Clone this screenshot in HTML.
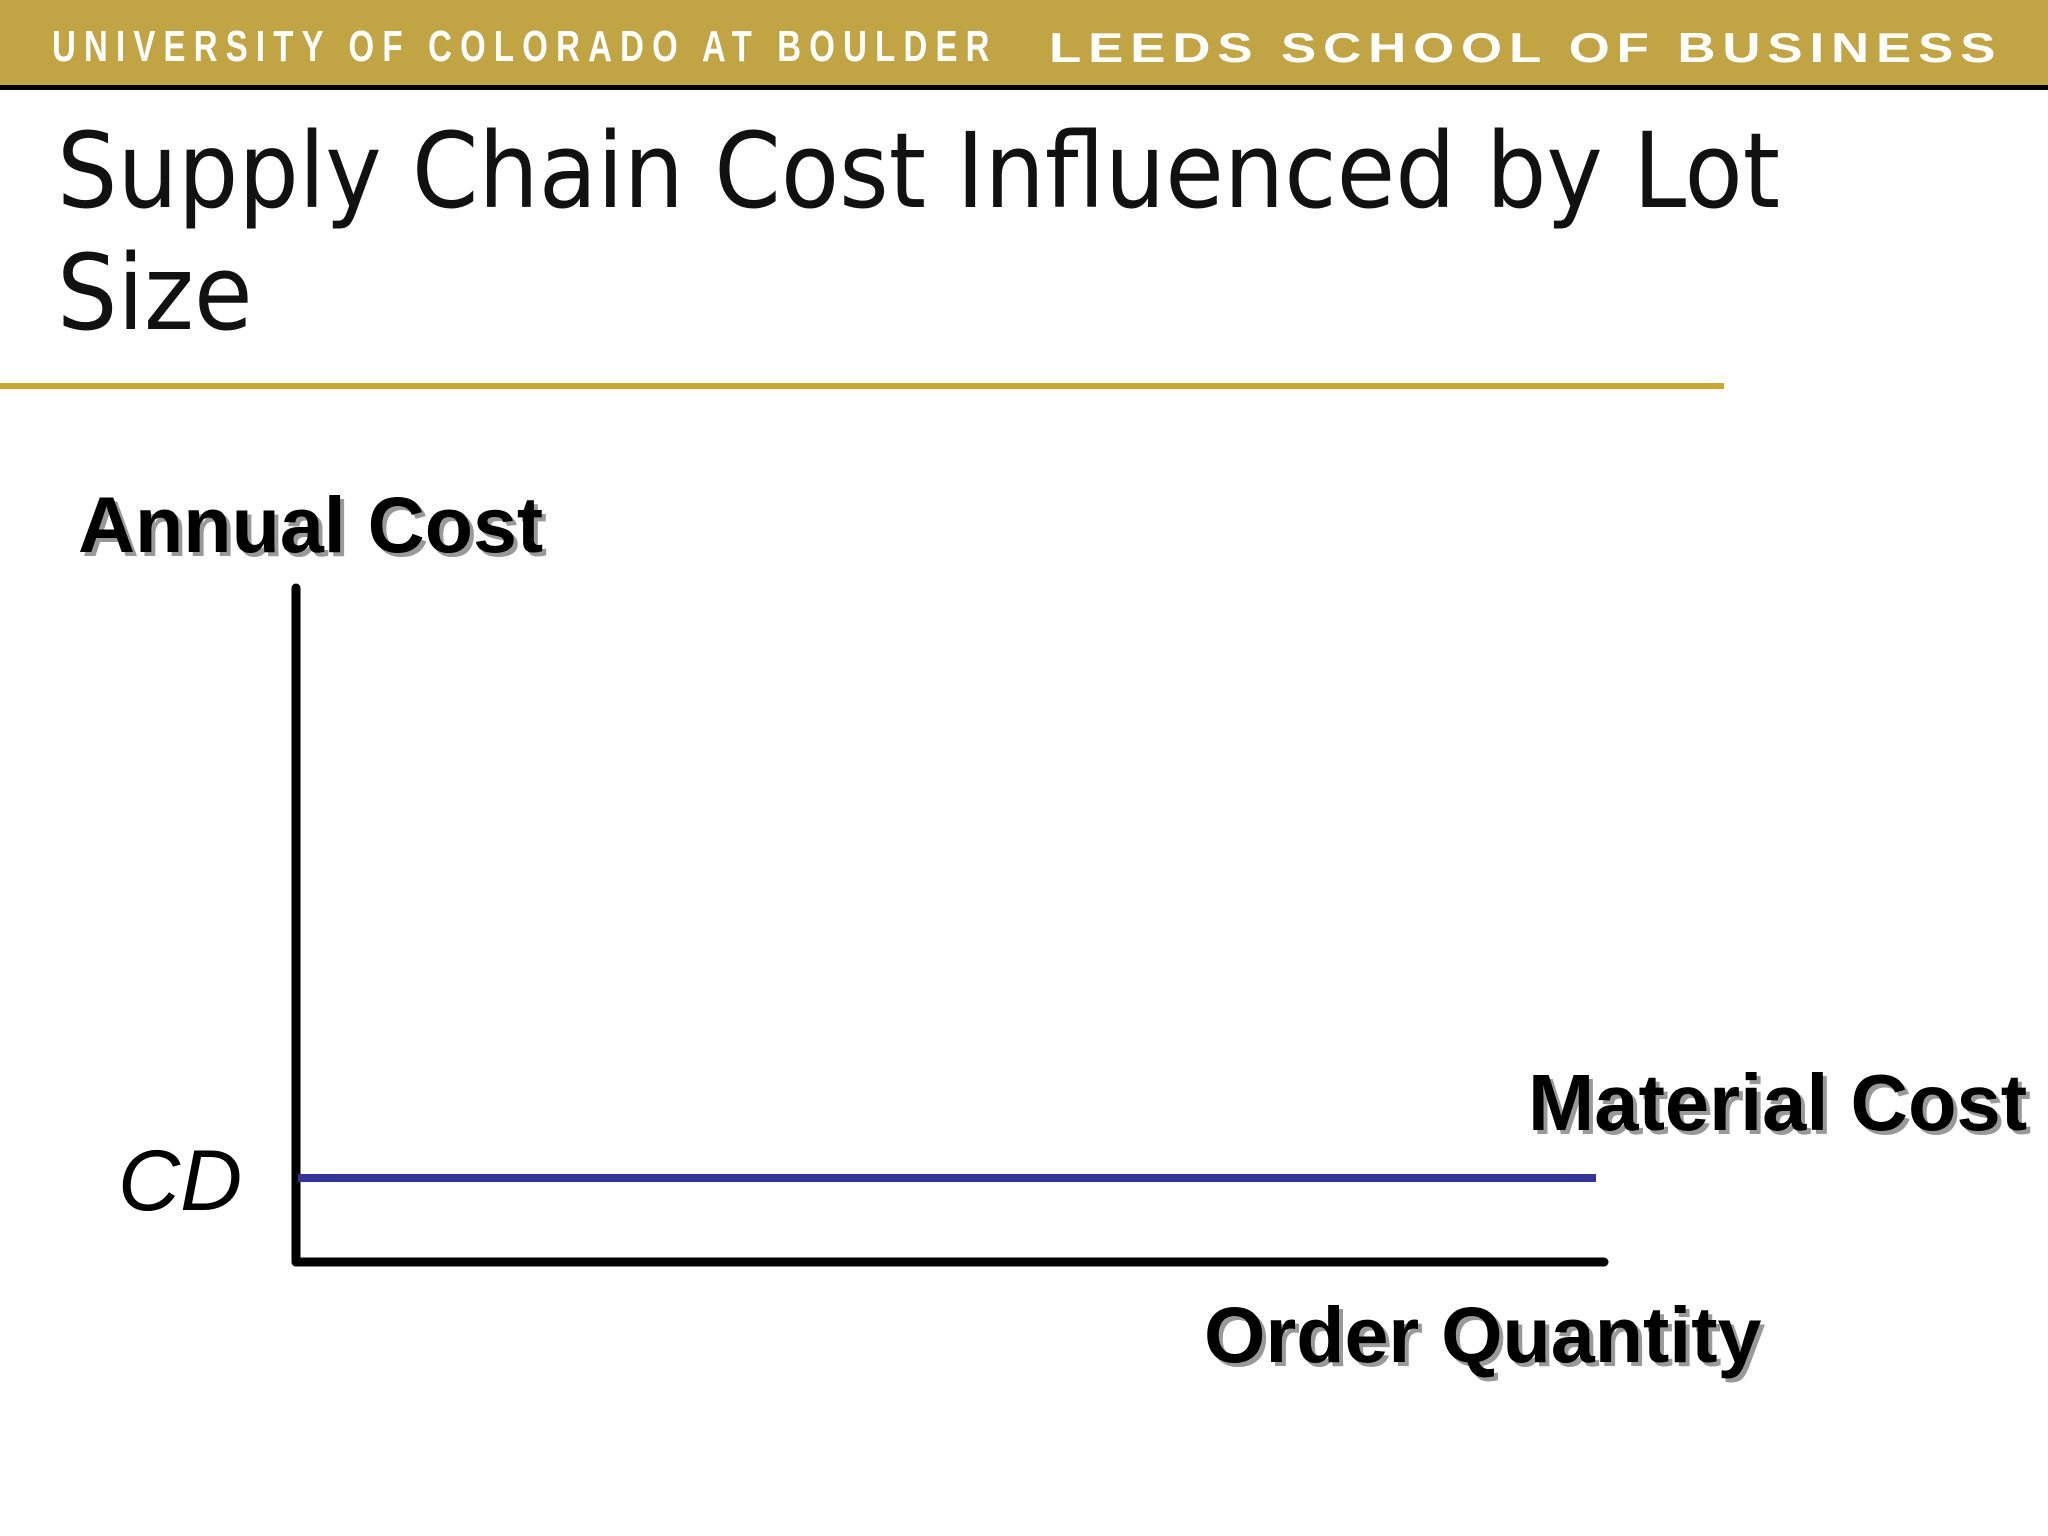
<!DOCTYPE html>
<html><head><meta charset="utf-8">
<style>
html,body{margin:0;padding:0;background:#fff;}
#root{position:relative;width:2048px;height:1536px;overflow:hidden;font-family:"Liberation Sans",sans-serif;}
.hdr{position:absolute;left:0;top:0;width:2048px;height:85px;background:#c1a545;}
.hdrline{position:absolute;left:0;top:85px;width:2048px;height:5px;background:#000;}
.uni{position:absolute;left:52px;top:22px;font-size:44px;font-weight:bold;color:#fff;letter-spacing:11px;transform:scaleX(0.748);transform-origin:left top;white-space:nowrap;}
.leeds{position:absolute;left:1049px;top:24px;font-size:42px;font-weight:bold;color:#fff;letter-spacing:5.5px;white-space:nowrap;transform:scaleX(1.256);transform-origin:left top;}
.title{position:absolute;left:57px;top:110px;font-size:104px;line-height:122px;color:#111;font-family:"DejaVu Sans","Liberation Sans",sans-serif;transform:scaleX(0.916);transform-origin:left top;white-space:nowrap;}
.rule{position:absolute;left:0;top:383px;width:1724px;height:6px;background:#c9a635;}
</style></head><body>
<div id="root">
<div class="hdr"></div>
<div class="hdrline"></div>
<div class="uni">UNIVERSITY OF COLORADO AT BOULDER</div>
<div class="leeds">LEEDS SCHOOL OF BUSINESS</div>
<div class="title">Supply Chain Cost Influenced by Lot<br>Size</div>
<div class="rule"></div>
<svg id="chart" width="2048" height="1536" style="position:absolute;left:0;top:0"></svg>
</div>
<script>
const categories = ["min", "max"];
const materialCost = [1, 1];
const yTicks = ["CD"];
const NS="http://www.w3.org/2000/svg";
const svg=document.getElementById('chart');
const x0=296,x1=1600,yTop=588,yBase=1262;
function xs(i){return i===0?x0+2:x1-4;}
function ys(v){return yBase-v*84;}
function mk(t,a){const e=document.createElementNS(NS,t);for(const k in a)e.setAttribute(k,a[k]);svg.appendChild(e);return e;}
function txt(s,x,y,size){
  const sh=mk('text',{x:x+4,y:y+4,'font-size':size,'font-weight':'bold','font-family':'Liberation Sans, sans-serif',fill:'#999'});sh.textContent=s;
  
  
  const t=mk('text',{x:x,y:y,'font-size':size,'font-weight':'bold','font-family':'Liberation Sans, sans-serif',fill:'#000'});t.textContent=s;
  return t;
}
let e;
e=mk('line',{x1:x0,y1:yTop,x2:x0,y2:yBase,stroke:'#000','stroke-width':9,'stroke-linecap':'round'});


e=mk('line',{x1:x0,y1:yBase,x2:1604,y2:yBase,stroke:'#000','stroke-width':9,'stroke-linecap':'round'});


e=mk('line',{x1:xs(0),y1:ys(materialCost[0]),x2:xs(1),y2:ys(materialCost[1]),stroke:'#333399','stroke-width':8});


e=mk('text',{x:118,y:ys(materialCost[0])+32,'font-size':86,'font-style':'italic','font-family':'Liberation Sans, sans-serif',fill:'#000'});
e.textContent=yTicks[0];


e=txt('Annual Cost',78,552,79);


e=txt('Material Cost',1528,1130,79.5);


e=txt('Order Quantity',1204,1362,79);


</script>
</body></html>
